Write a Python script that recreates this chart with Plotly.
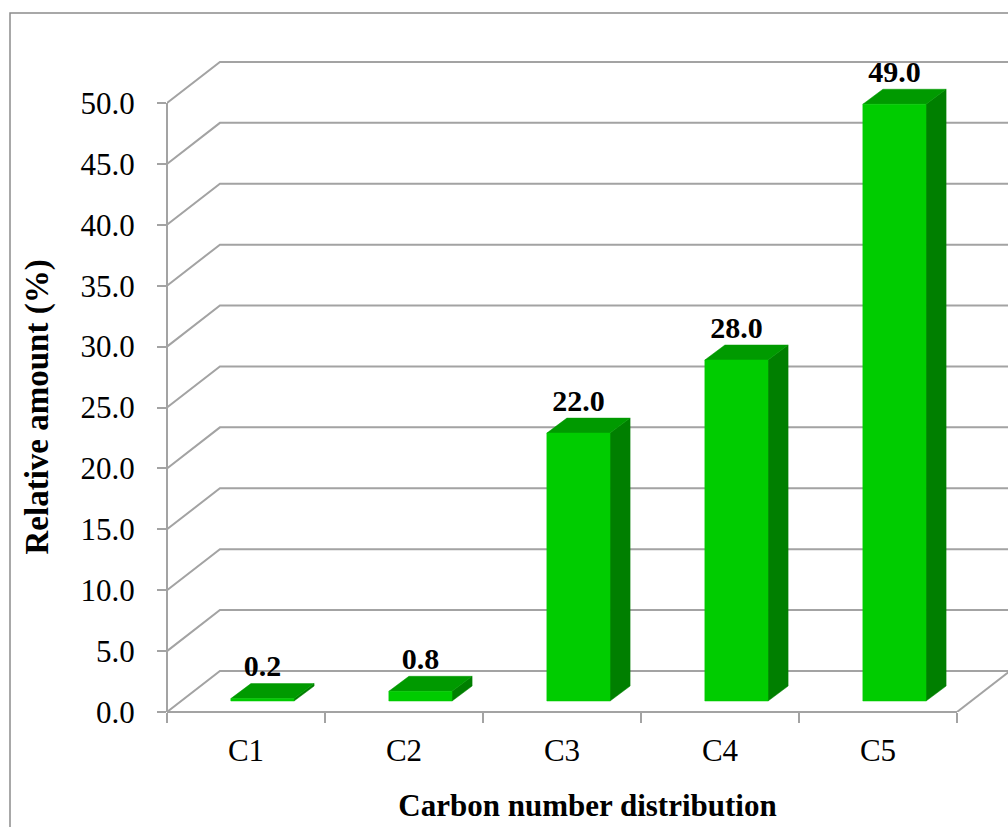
import plotly.graph_objects as go

# --- data -------------------------------------------------------------
categories = ["C1", "C2", "C3", "C4", "C5"]
relative_amount = [0.2, 0.8, 22.0, 28.0, 49.0]
y_tick_values = [0, 5, 10, 15, 20, 25, 30, 35, 40, 45, 50]

# --- pseudo-3D geometry (x in category units, y in percent units) -------
BAR_HALF = 0.20                 # half width of a column's front face
FACE_DX, FACE_DY = 0.104, 0.90  # front face set back into the box
BAR_DX, BAR_DY = 0.127, 1.23    # depth of each column
WALL_DX, WALL_DY = 0.335, 3.37  # depth of the floor / back wall
LABEL_LIFT = 2.45               # value label above the column top

X_LO = -0.5
X_HI = len(categories) - 0.5
PX_PER_CAT = 158.0
PX_PER_UNIT = 12.18

W, H = 1008, 827
ML, MR, MT, MB = 167, 0, 54, 115
PLOT_W = W - ML - MR
PLOT_H = H - MT - MB
x_range = [X_LO, X_LO + PLOT_W / PX_PER_CAT]
y_range = [0, PLOT_H / PX_PER_UNIT]

GRID = "#A3A3A3"
FRONT = "#00CC00"
SIDE = "#007F00"
TOP = "#009A00"
FONT = "Liberation Serif"

fig = go.Figure()

# back wall / side wall gridlines, plus floor outline
gx, gy = [], []
for v in y_tick_values:
    gx += [X_LO, X_LO + WALL_DX, X_HI + WALL_DX, None]
    gy += [v, v + WALL_DY, v + WALL_DY, None]
gx += [X_HI, X_HI + WALL_DX, None]
gy += [0, WALL_DY, None]
fig.add_trace(go.Scatter(x=gx, y=gy, mode="lines",
                         line=dict(color=GRID, width=2),
                         hoverinfo="skip", showlegend=False))

# column faces
fx, fy, sx, sy, tx, ty = [], [], [], [], [], []
for i, v in enumerate(relative_amount):
    x0 = i - BAR_HALF + FACE_DX
    x1 = i + BAR_HALF + FACE_DX
    yb = FACE_DY
    yt = v + FACE_DY
    fx += [x0, x1, x1, x0, x0, None]
    fy += [yb, yb, yt, yt, yb, None]
    sx += [x1, x1 + BAR_DX, x1 + BAR_DX, x1, x1, None]
    sy += [yb, yb + BAR_DY, yt + BAR_DY, yt, yb, None]
    tx += [x0, x1, x1 + BAR_DX, x0 + BAR_DX, x0, None]
    ty += [yt, yt, yt + BAR_DY, yt + BAR_DY, yt, None]

for xs, ys, col in ((sx, sy, SIDE), (tx, ty, TOP), (fx, fy, FRONT)):
    fig.add_trace(go.Scatter(x=xs, y=ys, mode="lines", fill="toself",
                             fillcolor=col, line=dict(color=col, width=0.5),
                             hoverinfo="skip", showlegend=False))

# value labels
fig.add_trace(go.Scatter(
    x=[i + FACE_DX for i in range(len(relative_amount))],
    y=[v + FACE_DY + LABEL_LIFT for v in relative_amount],
    mode="text",
    text=[f"{v:.1f}" for v in relative_amount],
    textposition="middle center",
    textfont=dict(family=FONT, size=30, color="black", weight="bold"),
    cliponaxis=False, hoverinfo="skip", showlegend=False))

# carrier for the category-label axis
fig.add_trace(go.Scatter(x=[0], y=[0], xaxis="x2", mode="markers",
                         marker=dict(opacity=0), hoverinfo="skip",
                         showlegend=False))

# front axis lines
fig.add_shape(type="line", xref="x domain", yref="y", x0=0, x1=0,
              y0=0, y1=y_tick_values[-1], line=dict(color=GRID, width=2))
fig.add_shape(type="line", xref="x", yref="y domain", x0=X_LO, x1=X_HI,
              y0=0, y1=0, line=dict(color=GRID, width=2))

# outer chart border
fig.add_shape(type="rect", xref="paper", yref="paper",
              x0=(10 - ML) / PLOT_W, x1=(W + 5 - ML) / PLOT_W,
              y0=-(MB + 5) / PLOT_H, y1=(PLOT_H + MT - 13) / PLOT_H,
              line=dict(color="#8C8C8C", width=1.5), layer="below")

# value-axis title, centred on the 0-50 scale
fig.add_annotation(text="Relative amount (%)", textangle=-90,
                   xref="paper", x=(37 - ML) / PLOT_W, xanchor="center",
                   yref="y", y=(y_tick_values[0] + y_tick_values[-1]) / 2,
                   yanchor="middle", showarrow=False,
                   font=dict(family=FONT, size=33, color="black",
                             weight="bold"))

fig.update_layout(
    width=W, height=H,
    margin=dict(l=ML, r=MR, t=MT, b=MB, autoexpand=False),
    paper_bgcolor="white", plot_bgcolor="white",
    showlegend=False,
    xaxis=dict(range=x_range, showgrid=False, zeroline=False, showline=False,
               tickmode="array",
               tickvals=[X_LO + k for k in range(len(categories) + 1)],
               showticklabels=False, ticks="outside", ticklen=10,
               tickwidth=2, tickcolor=GRID, fixedrange=True),
    xaxis2=dict(range=x_range, overlaying="x", anchor="y", side="bottom",
                showgrid=False, zeroline=False, showline=False,
                tickmode="array", tickvals=list(range(len(categories))),
                ticktext=categories, ticks="outside", ticklen=11,
                tickcolor="rgba(0,0,0,0)",
                tickfont=dict(family=FONT, size=31, color="black"),
                title=dict(text="Carbon number distribution", standoff=27,
                           font=dict(family=FONT, size=31, color="black",
                                     weight="bold")),
                fixedrange=True),
    yaxis=dict(range=y_range, showgrid=False, zeroline=False, showline=False,
               tickmode="array", tickvals=y_tick_values,
               ticktext=[f"{v:.1f}" for v in y_tick_values],
               ticks="outside", ticklen=9, tickwidth=2, tickcolor=GRID,
               ticklabelstandoff=16,
               tickfont=dict(family=FONT, size=31, color="black"),
               fixedrange=True),
)

fig.write_html("out.html")
